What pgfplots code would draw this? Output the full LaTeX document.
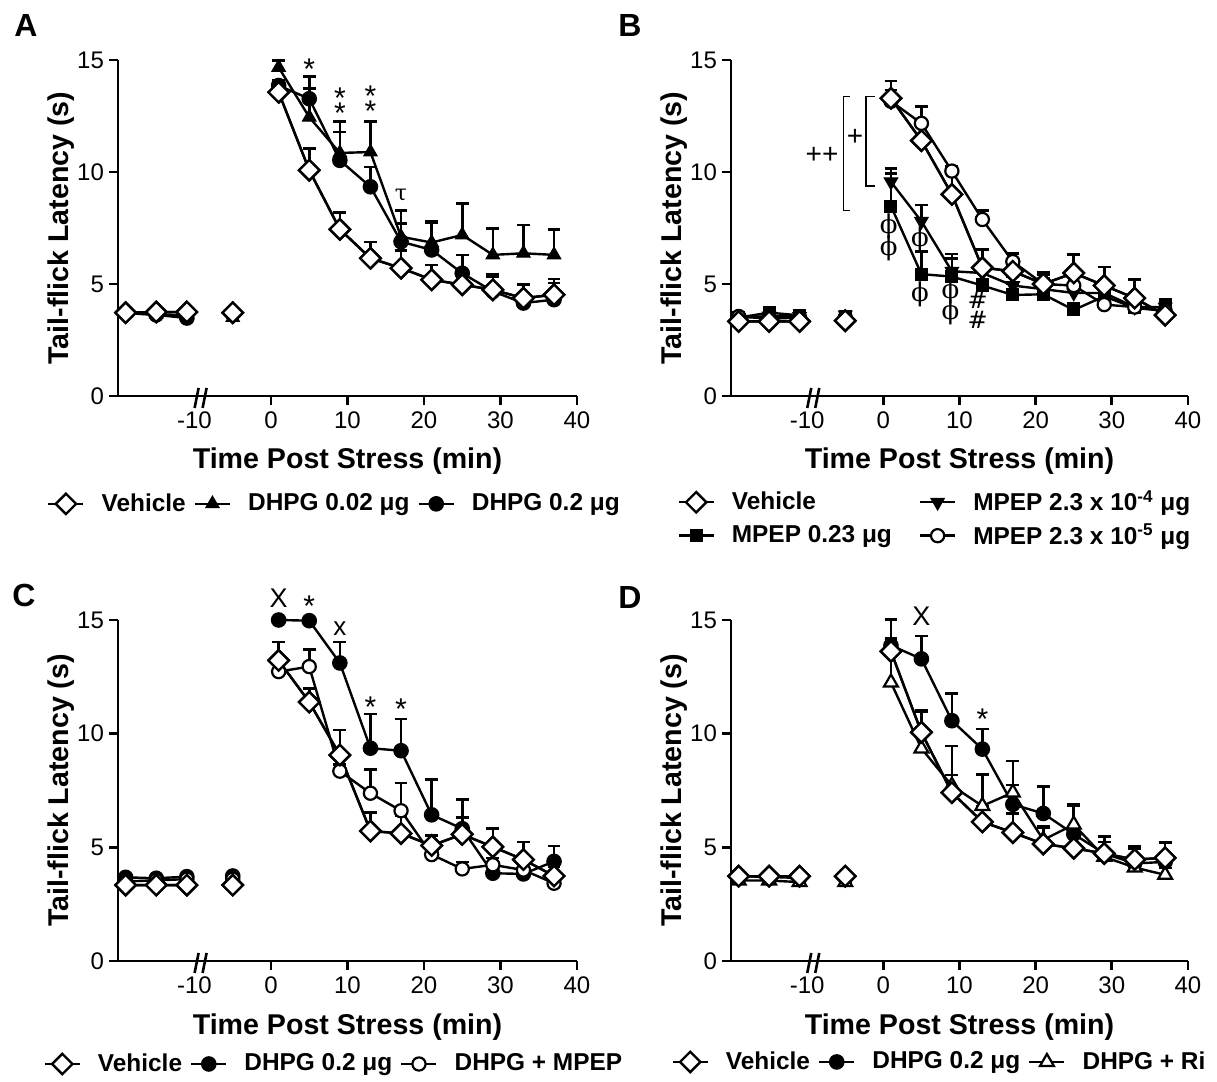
\documentclass[border=0pt]{standalone}
\usepackage{fontspec}
\setmainfont{Liberation Sans}
\newfontfamily\grk{DejaVu Serif}
\usepackage{pgfplots}
\usepackage{pgfplotstable}
\pgfplotsset{compat=1.18}

\newcommand\tickfont{\fontsize{12}{14}\selectfont}
\newcommand\labfont{\fontsize{14.3}{16}\selectfont\bfseries}
\newcommand\legfont{\fontsize{12.2}{14}\selectfont\bfseries}
\newcommand\letfont{\fontsize{16}{16}\selectfont\bfseries}
\newcommand\starfont{\fontsize{15}{7.6}\selectfont\lineskiplimit=-100pt}
\newcommand\phifont{\grk\fontsize{13}{10.75}\selectfont\lineskiplimit=-100pt}
\newcommand\hashfont{\grk\fontsize{12}{9.85}\selectfont\lineskiplimit=-100pt}

% x  y(mean)  e(+SEM); nan rows break the line
\pgfplotstableread{
x y e
-19 3.72 0
-15 3.75 0
-11 3.75 0
-8 nan 0
-5 3.72 0
-2 nan 0
1 13.56 0.5
5 10.08 0.96
9 7.44 0.74
13 6.15 0.72
17 5.71 0.78
21 5.19 0.66
25 4.97 0.62
29 4.74 0.6
33 4.37 0.6
37 4.52 0.7
}\tAveh
\pgfplotstableread{
x y e
-19 3.68 0
-15 3.66 0
-11 3.6 0
-8 nan 0
-5 3.5 0
-2 nan 0
1 14.67 0.3
5 12.45 1.29
9 10.85 1.41
13 10.89 1.37
17 7.11 1.16
21 6.85 0.93
25 7.19 1.41
29 6.3 1.18
33 6.37 1.26
37 6.3 1.14
}\tAlow
\pgfplotstableread{
x y e
-19 3.7 0
-15 3.62 0
-11 3.48 0
-8 nan 0
-5 3.68 0
-2 nan 0
1 13.86 0.25
5 13.27 0.99
9 10.52 1.26
13 9.34 0.89
17 6.89 0.82
21 6.52 1.22
25 5.48 0.82
29 4.67 0.78
33 4.15 0.82
37 4.3 0.75
}\tAhigh

\pgfplotstableread{
x y e
-19 3.33 0
-15 3.33 0
-11 3.33 0
-8 nan 0
-5 3.36 0
-2 nan 0
1 13.29 0.78
5 11.4 0.6
9 9.0 1.2
13 5.73 0.8
17 5.57 0.8
21 5.0 0.5
25 5.49 0.83
29 4.93 0.83
33 4.37 0.83
37 3.61 0.6
}\tBveh
\pgfplotstableread{
x y e
-19 3.49 0
-15 3.57 0
-11 3.55 0
-8 nan 0
-5 3.62 0
-2 nan 0
1 9.56 0.6
5 7.8 0.72
9 5.57 0.76
13 5.49 0.4
17 4.93 0.4
21 4.77 0.5
25 4.6 0.4
29 4.6 0.4
33 3.97 0.3
37 3.97 0.35
}\tBfour
\pgfplotstableread{
x y e
-19 3.5 0
-15 3.72 0
-11 3.6 0
-8 nan 0
-5 3.55 0
-2 nan 0
1 8.48 1.44
5 5.44 1.0
9 5.33 0.8
13 4.93 0.3
17 4.51 0.5
21 4.54 0.4
25 3.84 0.3
29 4.45 0.4
33 3.93 0.2
37 3.8 0.3
}\tBbig
\pgfplotstableread{
x y e
-19 3.55 0
-15 3.45 0
-11 3.5 0
-8 nan 0
-5 3.5 0
-2 nan 0
1 13.16 0.5
5 12.17 0.75
9 10.04 0.2
13 7.88 0.4
17 6.0 0.37
21 5.0 0.4
25 4.93 0.4
29 4.08 0.5
33 3.97 0.3
37 3.8 0.3
}\tBfive

\pgfplotstableread{
x y e
-19 3.34 0
-15 3.34 0
-11 3.34 0
-8 nan 0
-5 3.34 0
-2 nan 0
1 13.22 0.82
5 11.39 0.6
9 9.06 1.1
13 5.72 0.8
17 5.61 0.8
21 5.08 0.45
25 5.57 0.75
29 5.02 0.8
33 4.46 0.77
37 3.74 0.4
}\tCveh
\pgfplotstableread{
x y e
-19 3.68 0
-15 3.64 0
-11 3.71 0
-8 nan 0
-5 3.74 0
-2 nan 0
1 15.0 0
5 14.97 0
9 13.11 0.93
13 9.36 1.5
17 9.25 1.4
21 6.43 1.55
25 5.82 1.28
29 3.86 0.3
33 3.83 0.3
37 4.38 0.67
}\tCdhpg
\pgfplotstableread{
x y e
-19 3.5 0
-15 3.55 0
-11 3.6 0
-8 nan 0
-5 3.6 0
-2 nan 0
1 12.73 0.3
5 12.95 0.74
9 8.35 0.3
13 7.38 1.04
17 6.61 1.22
21 4.68 0.3
25 4.05 0.3
29 4.23 0.3
33 4.0 0.3
37 3.42 0.2
}\tCmpep

\pgfplotstableread{
x y e
-19 3.73 0
-15 3.73 0
-11 3.73 0
-8 nan 0
-5 3.73 0
-2 nan 0
1 13.62 0.5
5 10.06 0.92
9 7.41 0.77
13 6.12 0.7
17 5.65 0.84
21 5.15 0.7
25 4.96 0.6
29 4.73 0.5
33 4.46 0.5
37 4.54 0.67
}\tDveh
\pgfplotstableread{
x y e
-19 3.73 0
-15 3.7 0
-11 3.65 0
-8 nan 0
-5 3.7 0
-2 nan 0
1 13.88 0.3
5 13.29 1.0
9 10.57 1.2
13 9.32 0.89
17 6.89 0.86
21 6.49 1.19
25 5.58 1.24
29 4.73 0.72
33 4.29 0.74
37 4.36 0.85
}\tDdhpg
\pgfplotstableread{
x y e
-19 3.54 0
-15 3.54 0
-11 3.47 0
-8 nan 0
-5 3.47 0
-2 nan 0
1 12.25 2.78
5 9.35 1.66
9 7.71 1.75
13 6.82 1.38
17 7.41 1.38
21 5.33 0.6
25 6.0 0.89
29 4.58 0.9
33 4.11 0.4
37 3.79 0.3
}\tDri

\pgfplotsset{
  panel/.style={
    scale only axis, xmin=-20, xmax=40, ymin=0, ymax=15, clip=false,
    axis lines=left, axis line style={-, line width=1.4pt},
    tick align=outside, major tick length=4.5pt,
    tick style={line width=1.4pt, black},
    xtick={0,10,20,30,40}, xticklabels={0,10,20,30,40},
    extra x ticks={-10}, extra x tick labels={-10},
    extra x tick style={major tick style={draw=none}},
    ytick={0,5,10,15}, yticklabels={0,5,10,15},
    ticklabel style={font=\tickfont},
    yticklabel style={xshift=1pt},
    xlabel={Time Post Stress (min)}, ylabel={Tail-flick Latency (s)},
    label style={font=\labfont},
    xlabel style={at={(axis description cs:0.5,-0.195)}, anchor=center},
    ylabel style={at={(axis description cs:-0.125,0.5)}, anchor=center},
    unbounded coords=jump,
    legend cell align=left,
    legend image code/.code={\draw[mark repeat=2,mark phase=2,##1] plot coordinates {(0pt,0pt) (8.75pt,0pt) (17.5pt,0pt)};},
    legend style={draw=none, fill=none, inner sep=0pt, font=\legfont, anchor=west,
      nodes={inner sep=0pt},
      /tikz/every odd column/.style={column sep=8.5pt},
      /tikz/every even column/.style={column sep=4pt}},
  },
  sveh/.style={black, line width=1.2pt, mark=square*, mark size=3.6pt,
    mark options={rotate=45, fill=white, line width=1.2pt}},
  stri/.style={black, line width=1.2pt, mark=triangle*, mark size=3.9pt,
    mark options={fill=black, line width=0.5pt}},
  sotri/.style={black, line width=1.2pt, mark=triangle*, mark size=4pt,
    mark options={fill=white, line width=1.1pt}},
  sdown/.style={black, line width=1.2pt, mark=triangle*, mark size=3.9pt,
    mark options={rotate=180, fill=black, line width=0.5pt}},
  ssq/.style={black, line width=1.2pt, mark=square*, mark size=3pt,
    mark options={fill=black, line width=0.5pt}},
  scirc/.style={black, line width=1.2pt, mark=*, mark size=3.3pt,
    mark options={fill=black}},
  socirc/.style={black, line width=1.2pt, mark=*, mark size=3.3pt,
    mark options={fill=white, line width=1.1pt}},
  ebar/.style={error bars/.cd, y dir=plus, y explicit,
    error bar style={line width=1.3pt, black, solid},
    error mark options={line width=1.3pt, black, mark size=3.2pt, rotate=90}},
}

\begin{document}
\begin{tikzpicture}
\path[use as bounding box] (0,0) rectangle (608.5pt,541pt);

\node[anchor=north west, inner sep=0pt, font=\letfont] at (7pt,534pt) {A};
\node[anchor=north west, inner sep=0pt, font=\letfont] at (309pt,534pt) {B};
\node[anchor=north west, inner sep=0pt, font=\letfont] at (6pt,249pt) {C};
\node[anchor=north west, inner sep=0pt, font=\letfont] at (309pt,248pt) {D};

% ---- A
\begin{axis}[panel, at={(59pt,343pt)}, anchor=south west, width=229.5pt, height=168pt,
  legend columns=3, legend style={at={(axis description cs:-0.155,-0.321)}}]
\addplot[sveh, ebar] table[x=x, y=y, y error=e] {\tAveh};
\addlegendentry{Vehicle}
\addplot[stri, ebar] table[x=x, y=y, y error=e] {\tAlow};
\addlegendentry{DHPG 0.02 μg}
\addplot[scirc, ebar] table[x=x, y=y, y error=e] {\tAhigh};
\addlegendentry{DHPG 0.2 μg}
\addplot[sveh, forget plot, ebar] table[x=x, y=y, y error=e] {\tAveh};
\draw[line width=1.3pt] ([xshift=-3pt,yshift=-6pt]axis cs:-9.2,0) -- ++(2pt,10pt);
\draw[line width=1.3pt] ([xshift=1pt,yshift=-6pt]axis cs:-9.2,0) -- ++(2pt,10pt);
\node[font=\starfont, anchor=north, yshift=2pt, inner sep=0pt] at (axis cs:5,14.9) {*};
\node[font=\starfont, anchor=north, yshift=2pt, inner sep=0pt, align=center] at (axis cs:9,13.6) {*\\*};
\node[font=\starfont, anchor=north, yshift=2pt, inner sep=0pt, align=center] at (axis cs:13,13.7) {*\\*};
\node[font=\grk\fontsize{11}{11}\selectfont, inner sep=0pt] at (axis cs:17,8.97) {τ};
\end{axis}

% ---- B
\begin{axis}[panel, at={(365.5pt,343pt)}, anchor=south west, width=228.5pt, height=168pt,
  legend columns=2, legend style={at={(axis description cs:-0.118,-0.366)}, row sep=5pt,
    /tikz/every even column/.style={column sep=13.5pt}}]
\addplot[sveh, ebar] table[x=x, y=y, y error=e] {\tBveh};
\addlegendentry{Vehicle}
\addplot[sdown, ebar] table[x=x, y=y, y error=e] {\tBfour};
\addlegendentry{MPEP 2.3 x 10\textsuperscript{-4} μg}
\addplot[ssq, ebar] table[x=x, y=y, y error=e] {\tBbig};
\addlegendentry{MPEP 0.23 μg}
\addplot[socirc, ebar] table[x=x, y=y, y error=e] {\tBfive};
\addlegendentry{MPEP 2.3 x 10\textsuperscript{-5} μg}
\addplot[sveh, forget plot, ebar] table[x=x, y=y, y error=e] {\tBveh};
\draw[line width=1.3pt] ([xshift=-3pt,yshift=-6pt]axis cs:-9.2,0) -- ++(2pt,10pt);
\draw[line width=1.3pt] ([xshift=1pt,yshift=-6pt]axis cs:-9.2,0) -- ++(2pt,10pt);
\draw[line width=0.7pt] (axis cs:-4.35,13.37) -| (axis cs:-5.25,8.28) -- (axis cs:-4.35,8.28);
\draw[line width=0.7pt] (axis cs:-1.1,13.37) -| (axis cs:-2.3,9.37) -- (axis cs:-1.1,9.37);
\node[font=\fontsize{14}{14}\selectfont, inner sep=0pt] at (axis cs:-8.05,10.76) {++};
\node[font=\fontsize{14}{14}\selectfont, inner sep=0pt] at (axis cs:-3.7,11.56) {+};
\node[font=\phifont, inner sep=0pt, align=center] at (axis cs:0.7,7.08) {ϕ\\ϕ};
\node[font=\phifont, inner sep=0pt] at (axis cs:4.8,7.0) {ϕ};
\node[font=\phifont, inner sep=0pt] at (axis cs:4.8,4.53) {ϕ};
\node[font=\phifont, inner sep=0pt, align=center] at (axis cs:8.8,4.21) {ϕ\\ϕ};
\node[font=\hashfont, inner sep=0pt, align=center] at (axis cs:12.4,3.85) {\#\\\#};
\end{axis}

% ---- C
\begin{axis}[panel, at={(59pt,60.5pt)}, anchor=south west, width=229.5pt, height=170.5pt,
  legend columns=3, legend style={at={(axis description cs:-0.163,-0.302)}}]
\addplot[sveh, ebar] table[x=x, y=y, y error=e] {\tCveh};
\addlegendentry{Vehicle}
\addplot[scirc, ebar] table[x=x, y=y, y error=e] {\tCdhpg};
\addlegendentry{DHPG 0.2 μg}
\addplot[socirc, ebar] table[x=x, y=y, y error=e] {\tCmpep};
\addlegendentry{DHPG + MPEP}
\addplot[sveh, forget plot, ebar] table[x=x, y=y, y error=e] {\tCveh};
\draw[line width=1.3pt] ([xshift=-3pt,yshift=-6pt]axis cs:-9.2,0) -- ++(2pt,10pt);
\draw[line width=1.3pt] ([xshift=1pt,yshift=-6pt]axis cs:-9.2,0) -- ++(2pt,10pt);
\node[font=\fontsize{13.5}{13.5}\selectfont, inner sep=0pt] at (axis cs:1,15.97) {X};
\node[font=\starfont, anchor=north, yshift=2pt, inner sep=0pt] at (axis cs:5,15.89) {*};
\node[font=\fontsize{13}{13}\selectfont, inner sep=0pt] at (axis cs:9,14.63) {x};
\node[font=\starfont, anchor=north, yshift=2pt, inner sep=0pt] at (axis cs:13,11.44) {*};
\node[font=\starfont, anchor=north, yshift=2pt, inner sep=0pt] at (axis cs:17,11.36) {*};
\end{axis}

% ---- D
\begin{axis}[panel, at={(365.5pt,60.5pt)}, anchor=south west, width=228.5pt, height=170.5pt,
  legend columns=3, legend style={at={(axis description cs:-0.131,-0.296)}}]
\addplot[sveh, ebar] table[x=x, y=y, y error=e] {\tDveh};
\addlegendentry{Vehicle}
\addplot[scirc, ebar] table[x=x, y=y, y error=e] {\tDdhpg};
\addlegendentry{DHPG 0.2 μg}
\addplot[sotri, ebar] table[x=x, y=y, y error=e] {\tDri};
\addlegendentry{DHPG + Ri}
\addplot[sveh, forget plot, ebar] table[x=x, y=y, y error=e] {\tDveh};
\draw[line width=1.3pt] ([xshift=-3pt,yshift=-6pt]axis cs:-9.2,0) -- ++(2pt,10pt);
\draw[line width=1.3pt] ([xshift=1pt,yshift=-6pt]axis cs:-9.2,0) -- ++(2pt,10pt);
\node[font=\fontsize{13.5}{13.5}\selectfont, inner sep=0pt] at (axis cs:5,15.15) {X};
\node[font=\starfont, anchor=north, yshift=2pt, inner sep=0pt] at (axis cs:13,10.95) {*};
\end{axis}
\end{tikzpicture}
\end{document}
